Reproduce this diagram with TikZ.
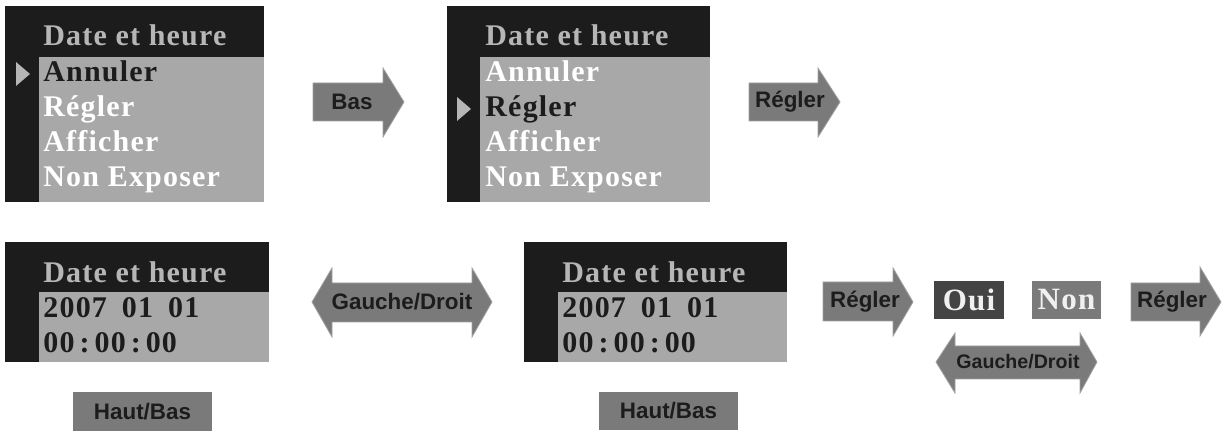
\documentclass[tikz,border=0pt]{standalone}
\usepackage{fontspec}
\usepackage{tikz}
\usetikzlibrary{positioning}
\usepackage{xcolor}
\definecolor{lcdblack}{RGB}{28,28,28}
\definecolor{lcdgray}{RGB}{168,168,168}
\definecolor{lcdhead}{RGB}{182,182,182}
\definecolor{keygray}{RGB}{122,122,122}
\definecolor{keyline}{RGB}{160,160,160}
\definecolor{ouibox}{RGB}{68,68,68}
\definecolor{nonbox}{RGB}{122,122,122}
\definecolor{txtlight}{RGB}{240,240,240}
\newfontfamily\lcdfont[LetterSpace=4]{Liberation Serif}
\newfontfamily\keyfont{Liberation Sans}
\tikzset{
  menutext/.style={anchor=base west, inner sep=0pt, font=\lcdfont\bfseries\fontsize{15}{17}\selectfont},
  keyarrow/.style={fill=keygray, draw=keyline, line width=0.4pt},
  keylabel/.style={inner sep=0pt, text=lcdblack, font=\keyfont\bfseries\fontsize{11.2}{13}\selectfont},
  choice/.style={inner sep=0pt, text=txtlight, font=\lcdfont\bfseries\fontsize{15.5}{17}\selectfont}
}

\begin{document}
\begin{tikzpicture}[x=0.5pt, y=-0.5pt]
  \useasboundingbox (0,0) rectangle (1223,437);

  % Menu, Annuler selected
  \fill[lcdblack] (5,6) rectangle (264,202);
  \fill[lcdgray] (39,57) rectangle (264,202);
  \fill[lcdhead] (16,62) -- (30,74) -- (16,86) -- cycle;
  \node[menutext, text=lcdhead] (head1) at (43,46) {Date et heure};
  \foreach \txt/\yy/\col [count=\i] in {Annuler/82/lcdblack, Régler/117/white, Afficher/152/white, Non Exposer/187/white}
    \node[menutext, text=\col] (item1-\i) at (43,\yy) {\txt};

  % Bas
  \draw[keyarrow] (313,83) -- (383,83) -- (383,68) -- (404,102) -- (383,137) -- (383,121) -- (313,121) -- cycle;
  \node[keylabel] (bas) at (352,102) {Bas};

  % Menu, Régler selected
  \fill[lcdblack] (447,6) rectangle (710,202);
  \fill[lcdgray] (480,57) rectangle (710,202);
  \fill[lcdhead] (457,97) -- (471,109) -- (457,121) -- cycle;
  \node[menutext, text=lcdhead] (head2) at (485,46) {Date et heure};
  \foreach \txt/\yy/\col [count=\i] in {Annuler/82/white, Régler/117/lcdblack, Afficher/152/white, Non Exposer/187/white}
    \node[menutext, text=\col] (item2-\i) at (485,\yy) {\txt};

  % Regler
  \draw[keyarrow] (749,83) -- (818,83) -- (818,68) -- (840,102) -- (818,137) -- (818,121) -- (749,121) -- cycle;
  \node[keylabel] (regler1) at (790,102) {Régler};

  % Date et heure, first screen
  \fill[lcdblack] (5,242) rectangle (269,362);
  \fill[lcdgray] (39,292) rectangle (269,362);
  \node[menutext, text=lcdhead] (head3) at (43,283) {Date et heure};
  \node[menutext, text=lcdblack] (date3) at (43,318) {2007\hspace{0.5em}01\hspace{0.5em}01};
  \node[menutext, text=lcdblack] (time3) at (43,353) {00\,:\,00\,:\,00};

  \fill[keygray] (73,392) rectangle (212,431);
  \node[keylabel] (hautbas1) at (142.5,411.5) {Haut/Bas};

  % Gauche/Droit
  \draw[keyarrow] (312,302) -- (332,268) -- (332,283) -- (472,283) -- (472,268) -- (492,302) -- (472,337) -- (472,322) -- (332,322) -- (332,337) -- cycle;
  \node[keylabel] (gd1) at (402,302) {Gauche/Droit};

  % Date et heure, second screen
  \fill[lcdblack] (524,242) rectangle (787,362);
  \fill[lcdgray] (558,292) rectangle (787,362);
  \node[menutext, text=lcdhead] (head4) at (562,283) {Date et heure};
  \node[menutext, text=lcdblack] (date4) at (562,318) {2007\hspace{0.5em}01\hspace{0.5em}01};
  \node[menutext, text=lcdblack] (time4) at (562,353) {00\,:\,00\,:\,00};

  \fill[keygray] (599,392) rectangle (738,430);
  \node[keylabel] (hautbas2) at (668.5,411) {Haut/Bas};

  % Regler, Oui / Non, Regler
  \draw[keyarrow] (823,282) -- (893,282) -- (893,268) -- (913,302) -- (893,336) -- (893,321) -- (823,321) -- cycle;
  \node[keylabel] (regler2) at (865,302) {Régler};

  \fill[ouibox] (934,281) rectangle (1004,319);
  \node[choice] (oui) at (969,300) {Oui};
  \fill[nonbox] (1032,281) rectangle (1101,319);
  \node[choice] (non) at (1066.5,300) {Non};

  \draw[keyarrow] (936,362) -- (955,333) -- (955,346) -- (1080,346) -- (1080,333) -- (1097,362) -- (1080,393) -- (1080,379) -- (955,379) -- (955,393) -- cycle;
  \node[keylabel, font=\keyfont\bfseries\fontsize{9.8}{12}\selectfont] (gd2) at (1018,362) {Gauche/Droit};

  \draw[keyarrow] (1131,283) -- (1200,283) -- (1200,267) -- (1221,302) -- (1200,336) -- (1200,321) -- (1131,321) -- cycle;
  \node[keylabel] (regler3) at (1172,302) {Régler};
\end{tikzpicture}
\end{document}
